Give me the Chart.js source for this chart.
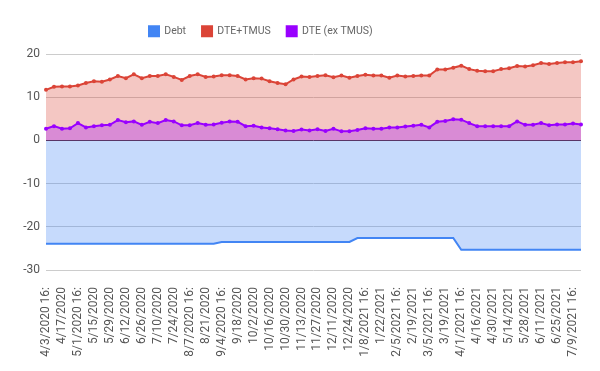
<!DOCTYPE html>
<html>
<head>
<meta charset="utf-8">
<script src="https://cdn.jsdelivr.net/npm/chart.js@4"></script>
<style>
  html, body { margin: 0; padding: 0; background: #fff; }
</style>
</head>
<body>
<canvas id="myChart" width="600" height="371"></canvas>
<script>
// weekly dates, only every other one is shown on the axis
const dates = [
  '4/3/2020 16:', '4/10/2020', '4/17/2020', '4/24/2020', '5/1/2020 16:', '5/8/2020', '5/15/2020', '5/22/2020',
  '5/29/2020', '6/5/2020', '6/12/2020', '6/19/2020', '6/26/2020', '7/2/2020', '7/10/2020', '7/17/2020',
  '7/24/2020', '7/31/2020', '8/7/2020 16:', '8/14/2020', '8/21/2020', '8/28/2020', '9/4/2020 16:', '9/11/2020',
  '9/18/2020', '9/25/2020', '10/2/2020', '10/9/2020', '10/16/2020', '10/23/2020', '10/30/2020', '11/6/2020',
  '11/13/2020', '11/20/2020', '11/27/2020', '12/4/2020', '12/11/2020', '12/18/2020', '12/24/2020', '12/31/2020',
  '1/8/2021 16:', '1/15/2021', '1/22/2021', '1/29/2021', '2/5/2021 16:', '2/12/2021', '2/19/2021', '2/26/2021',
  '3/5/2021 16:', '3/12/2021', '3/19/2021', '3/26/2021', '4/1/2021 16:', '4/9/2021', '4/16/2021', '4/23/2021',
  '4/30/2021', '5/7/2021', '5/14/2021', '5/21/2021', '5/28/2021', '6/4/2021', '6/11/2021', '6/18/2021',
  '6/25/2021', '7/2/2021', '7/9/2021 16:', '7/16/2021'
];

const debt = [
  -23.9, -23.9, -23.9, -23.9, -23.9, -23.9, -23.9, -23.9, -23.9, -23.9, -23.9,
  -23.9, -23.9, -23.9, -23.9, -23.9, -23.9, -23.9, -23.9, -23.9, -23.9, -23.9,
  -23.5, -23.5, -23.5, -23.5, -23.5, -23.5, -23.5, -23.5, -23.5, -23.5, -23.5,
  -23.5, -23.5, -23.5, -23.5, -23.5, -23.5,
  -22.6, -22.6, -22.6, -22.6, -22.6, -22.6, -22.6, -22.6, -22.6, -22.6, -22.6, -22.6, -22.6,
  -25.3, -25.3, -25.3, -25.3, -25.3, -25.3, -25.3, -25.3, -25.3, -25.3, -25.3, -25.3, -25.3,
  -25.3, -25.3, -25.3
];

const dteTmus = [
  11.7, 12.4, 12.5, 12.5, 12.7, 13.3, 13.7, 13.6, 14.1, 14.9, 14.4, 15.3, 14.4, 14.9, 14.9, 15.3,
  14.7, 14.0, 14.9, 15.3, 14.7, 14.8, 15.1, 15.1, 14.9, 14.1, 14.4, 14.3, 13.7, 13.3, 13.0, 14.1,
  14.8, 14.7, 14.9, 15.1, 14.6, 15.0, 14.5, 14.9, 15.2, 15.0, 15.0, 14.5, 15.0, 14.8, 14.9, 15.0,
  15.0, 16.4, 16.4, 16.8, 17.3, 16.5, 16.1, 16.0, 16.0, 16.5, 16.7, 17.2, 17.1, 17.4, 17.9, 17.7,
  17.9, 18.1, 18.1, 18.3
];

const dteExTmus = [
  2.7, 3.3, 2.7, 2.8, 4.0, 3.0, 3.3, 3.5, 3.6, 4.7, 4.2, 4.4, 3.6, 4.3, 4.0, 4.7,
  4.4, 3.5, 3.5, 4.0, 3.6, 3.7, 4.1, 4.4, 4.3, 3.3, 3.4, 3.0, 2.8, 2.6, 2.3, 2.2,
  2.5, 2.3, 2.6, 2.2, 2.7, 2.1, 2.1, 2.4, 2.8, 2.7, 2.7, 3.0, 3.0, 3.2, 3.4, 3.6,
  3.0, 4.3, 4.5, 4.9, 4.8, 4.0, 3.3, 3.3, 3.3, 3.3, 3.3, 4.4, 3.6, 3.6, 4.0, 3.5,
  3.7, 3.7, 3.9, 3.7
];

const yTicks = [-30, -20, -10, 0, 10, 20];

Chart.defaults.font.family = 'Roboto';
Chart.defaults.font.size = 12;

// legend: a bit more room below it, and start it where the reference does
const legendTweak = {
  id: 'legendTweak',
  beforeInit(chart) {
    const fit = chart.legend.fit;
    chart.legend.fit = function () {
      fit.call(this);
      this.height += 7.5;
    };
  },
  afterLayout(chart) {
    chart.legend.left = 133;
  }
};

const ctx = document.getElementById('myChart');

new Chart(ctx, {
  type: 'line',
  data: {
    labels: dates,
    datasets: [{
      label: 'Debt',
      data: debt,
      borderColor: '#4285f4',
      backgroundColor: '#4285f4',
      borderWidth: 2,
      pointRadius: 0,
      fill: { target: 'origin', above: 'rgba(66,133,244,0.3)', below: 'rgba(66,133,244,0.3)' },
      order: 3
    }, {
      label: 'DTE+TMUS',
      data: dteTmus,
      borderColor: '#db4437',
      backgroundColor: '#db4437',
      borderWidth: 2,
      pointRadius: 2,
      pointBorderWidth: 0,
      fill: { target: 'origin', above: 'rgba(219,68,55,0.3)', below: 'rgba(219,68,55,0.3)' },
      order: 2
    }, {
      label: 'DTE (ex TMUS)',
      data: dteExTmus,
      borderColor: '#9900ff',
      backgroundColor: '#9900ff',
      borderWidth: 2,
      pointRadius: 2,
      pointBorderWidth: 0,
      fill: { target: 'origin', above: 'rgba(153,0,255,0.3)', below: 'rgba(153,0,255,0.3)' },
      order: 1
    }]
  },
  plugins: [legendTweak],
  options: {
    responsive: false,
    animation: false,
    layout: { padding: { top: 10, right: 19, bottom: 9, left: 0 } },
    elements: { line: { tension: 0 } },
    plugins: {
      tooltip: { enabled: false },
      legend: {
        position: 'top',
        align: 'start',
        labels: {
          boxWidth: 10,
          boxHeight: 10,
          padding: 16,
          color: '#666',
          font: { size: 10.5 },
          sort: (a, b) => a.datasetIndex - b.datasetIndex
        }
      }
    },
    scales: {
      x: {
        grid: { display: false },
        border: { display: false },
        afterFit: (scale) => {
          scale.height = 92;
          scale.paddingLeft = 0;
          scale.paddingRight = 0;
        },
        ticks: {
          autoSkip: false,
          maxRotation: 90,
          minRotation: 90,
          padding: 9,
          color: '#555',
          callback: function (value, index) {
            return index % 2 === 0 ? dates[index] : '';
          }
        }
      },
      y: {
        min: -30,
        max: 20,
        afterFit: (scale) => { scale.width = 46; },
        afterBuildTicks: (scale) => { scale.ticks = yTicks.map(v => ({ value: v })); },
        border: { display: false },
        grid: {
          drawTicks: false,
          color: (c) => c.tick && c.tick.value === 0 ? '#333' : '#cccccc'
        },
        ticks: { padding: 6, color: '#555' }
      }
    }
  }
});
</script>
</body>
</html>
